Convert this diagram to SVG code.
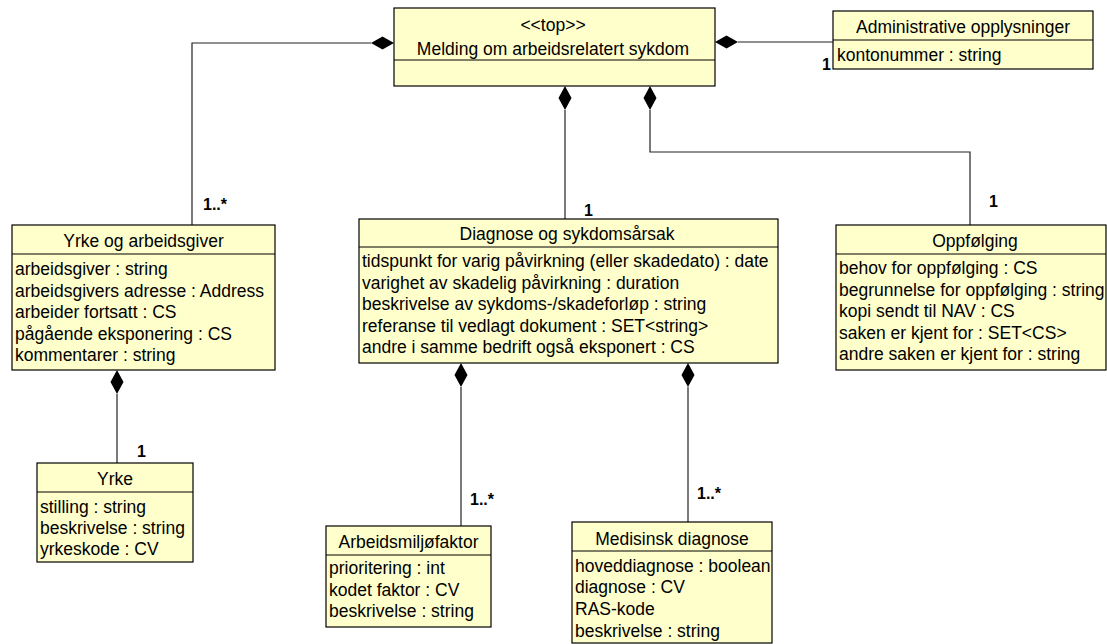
<svg xmlns="http://www.w3.org/2000/svg" width="1107" height="644" viewBox="0 0 1107 644">
<style>
.box{fill:#FFFFCC;stroke:#000;stroke-width:1.2}
.sep{stroke:#000;stroke-width:1.2}
text{font-family:"Liberation Sans",Arial,sans-serif;font-size:17.5px;fill:#000}
.c{text-anchor:middle}
.m{font-weight:bold;font-size:16px}
.ln{fill:none;stroke:#222;stroke-width:1.2}
.dia{fill:#000}
</style>
<rect width="1107" height="644" fill="#fff"/>
<g id="connectors">
<polyline class="ln" points="371,43 192,43 192,225"/>
<path class="dia" d="M394,43 L382.5,36.5 L371,43 L382.5,49.5 Z"/>
<text class="m" x="203" y="210">1..*</text>
<line class="ln" x1="738" y1="42" x2="833" y2="42"/>
<path class="dia" d="M715,42 L726.5,35.5 L738,42 L726.5,48.5 Z"/>
<text class="m" x="822" y="70">1</text>
<line class="ln" x1="565" y1="110" x2="565" y2="219"/>
<path class="dia" d="M565,86 L571.5,98 L565,110 L558.5,98 Z"/>
<text class="m" x="584" y="216">1</text>
<polyline class="ln" points="650,110 650,152 970,152 970,225"/>
<path class="dia" d="M650,86 L656.5,98 L650,110 L643.5,98 Z"/>
<text class="m" x="989" y="207">1</text>
<line class="ln" x1="117" y1="394" x2="117" y2="463"/>
<path class="dia" d="M117,370 L123.5,382 L117,394 L110.5,382 Z"/>
<text class="m" x="137" y="457">1</text>
<line class="ln" x1="461" y1="387" x2="461" y2="526"/>
<path class="dia" d="M461,363 L467.5,375 L461,387 L454.5,375 Z"/>
<text class="m" x="470" y="505">1..*</text>
<line class="ln" x1="688" y1="387" x2="688" y2="522"/>
<path class="dia" d="M688,363 L694.5,375 L688,387 L681.5,375 Z"/>
<text class="m" x="697" y="499">1..*</text>
</g>
<g id="top">
<rect class="box" x="394" y="8" width="321" height="78"/>
<line class="sep" x1="394" y1="60" x2="715" y2="60"/>
<text class="c" x="553" y="31">&lt;&lt;top&gt;&gt;</text>
<text class="c" x="553" y="55">Melding om arbeidsrelatert sykdom</text>
</g>
<g id="admin">
<rect class="box" x="833" y="11" width="260" height="58"/>
<line class="sep" x1="833" y1="40" x2="1093" y2="40"/>
<text class="c" x="963" y="33">Administrative opplysninger</text>
<text x="837" y="61">kontonummer : string</text>
</g>
<g id="yrkeogarbeidsgiver">
<rect class="box" x="12" y="225" width="263" height="145"/>
<line class="sep" x1="12" y1="254" x2="275" y2="254"/>
<text class="c" x="143.5" y="247">Yrke og arbeidsgiver</text>
<text x="15" y="275">arbeidsgiver : string</text>
<text x="15" y="296.5">arbeidsgivers adresse : Address</text>
<text x="15" y="318">arbeider fortsatt : CS</text>
<text x="15" y="339.5">pågående eksponering : CS</text>
<text x="15" y="361">kommentarer : string</text>
</g>
<g id="diagnose">
<rect class="box" x="359" y="219" width="419" height="144"/>
<line class="sep" x1="359" y1="247" x2="778" y2="247"/>
<text class="c" x="567" y="240">Diagnose og sykdomsårsak</text>
<text x="362" y="267">tidspunkt for varig påvirkning (eller skadedato) : date</text>
<text x="362" y="288.5">varighet av skadelig påvirkning : duration</text>
<text x="362" y="310">beskrivelse av sykdoms-/skadeforløp : string</text>
<text x="362" y="331.5">referanse til vedlagt dokument : SET&lt;string&gt;</text>
<text x="362" y="353">andre i samme bedrift også eksponert : CS</text>
</g>
<g id="oppfolging">
<rect class="box" x="836" y="225" width="270" height="145"/>
<line class="sep" x1="836" y1="254" x2="1106" y2="254"/>
<text class="c" x="975" y="246.5">Oppfølging</text>
<text x="839" y="274">behov for oppfølging : CS</text>
<text x="839" y="296">begrunnelse for oppfølging : string</text>
<text x="839" y="317">kopi sendt til NAV : CS</text>
<text x="839" y="338.5">saken er kjent for : SET&lt;CS&gt;</text>
<text x="839" y="360">andre saken er kjent for : string</text>
</g>
<g id="yrke">
<rect class="box" x="37" y="463" width="156" height="99"/>
<line class="sep" x1="37" y1="492" x2="193" y2="492"/>
<text class="c" x="115" y="485">Yrke</text>
<text x="40" y="513">stilling : string</text>
<text x="40" y="534">beskrivelse : string</text>
<text x="40" y="555">yrkeskode : CV</text>
</g>
<g id="arbeidsmiljofaktor">
<rect class="box" x="326" y="526" width="165" height="101"/>
<line class="sep" x1="326" y1="555" x2="491" y2="555"/>
<text class="c" x="408.5" y="548">Arbeidsmiljøfaktor</text>
<text x="329" y="574">prioritering : int</text>
<text x="329" y="596">kodet faktor : CV</text>
<text x="329" y="617">beskrivelse : string</text>
</g>
<g id="medisinskdiagnose">
<rect class="box" x="572" y="522" width="200" height="121"/>
<line class="sep" x1="572" y1="551" x2="772" y2="551"/>
<text class="c" x="672" y="545">Medisinsk diagnose</text>
<text x="575" y="572">hoveddiagnose : boolean</text>
<text x="575" y="593">diagnose : CV</text>
<text x="575" y="615">RAS-kode</text>
<text x="575" y="637">beskrivelse : string</text>
</g>
</svg>
